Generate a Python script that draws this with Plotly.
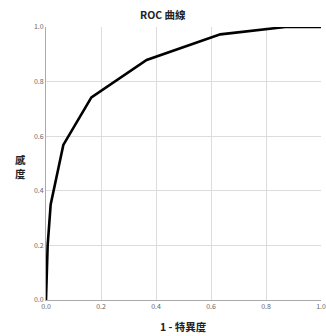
import plotly.graph_objects as go

fpr = [0.0, 0.003, 0.006, 0.017, 0.063, 0.165, 0.366, 0.634, 0.87, 1.0]
tpr = [0.0, 0.10, 0.20, 0.35, 0.568, 0.742, 0.879, 0.973, 1.0, 1.0]
ticks = [0.0, 0.2, 0.4, 0.6, 0.8, 1.0]
tick_labels = ["0.0", "0.2", "0.4", "0.6", "0.8", "1.0"]

font_family = "Noto Sans CJK TC, Noto Sans, sans-serif"

fig = go.Figure()
fig.add_trace(go.Scatter(x=fpr, y=tpr, mode="lines",
                         line=dict(color="black", width=2.6), hoverinfo="skip"))

fig.update_layout(
    width=326, height=336,
    margin=dict(l=46, r=5, t=27, b=36, autoexpand=False),
    paper_bgcolor="white", plot_bgcolor="white",
    showlegend=False,
    font=dict(family=font_family, color="#555"),
)
fig.update_xaxes(range=[0, 1], tickvals=ticks, ticktext=tick_labels,
                 showgrid=True, gridcolor="#dcdcdc", gridwidth=1,
                 showline=True, linecolor="#aaa", linewidth=1,
                 zeroline=False, ticks="", tickfont=dict(size=7, color="#666", family=font_family),
                 automargin=False)
fig.update_yaxes(range=[0, 1], tickvals=ticks, ticktext=tick_labels,
                 showgrid=True, gridcolor="#dcdcdc", gridwidth=1,
                 showline=True, linecolor="#aaa", linewidth=1,
                 zeroline=False, ticks="", tickfont=dict(size=7, color="#666", family=font_family),
                 automargin=False)

fig.add_annotation(text="<b>ROC 曲線</b>", xref="paper", yref="paper",
                   x=0.425, y=1.0, yshift=3, xanchor="center", yanchor="bottom",
                   showarrow=False, font=dict(size=10.5, color="#222", family=font_family))
fig.add_annotation(text="<b>1 - 特異度</b>", xref="paper", yref="paper",
                   x=0.5, y=0, yshift=-17, xanchor="center", yanchor="top",
                   showarrow=False, font=dict(size=10.5, color="#222", family=font_family))
fig.add_annotation(text="<b>感<br>度</b>", xref="paper", yref="paper",
                   x=0, xshift=-26, y=0.49, xanchor="center", yanchor="middle",
                   showarrow=False, font=dict(size=10.5, color="#222", family=font_family),
                   align="center")

fig.write_html("out.html", config={"displayModeBar": False},
               post_script="document.body.style.margin='0';document.body.style.overflow='hidden';")
